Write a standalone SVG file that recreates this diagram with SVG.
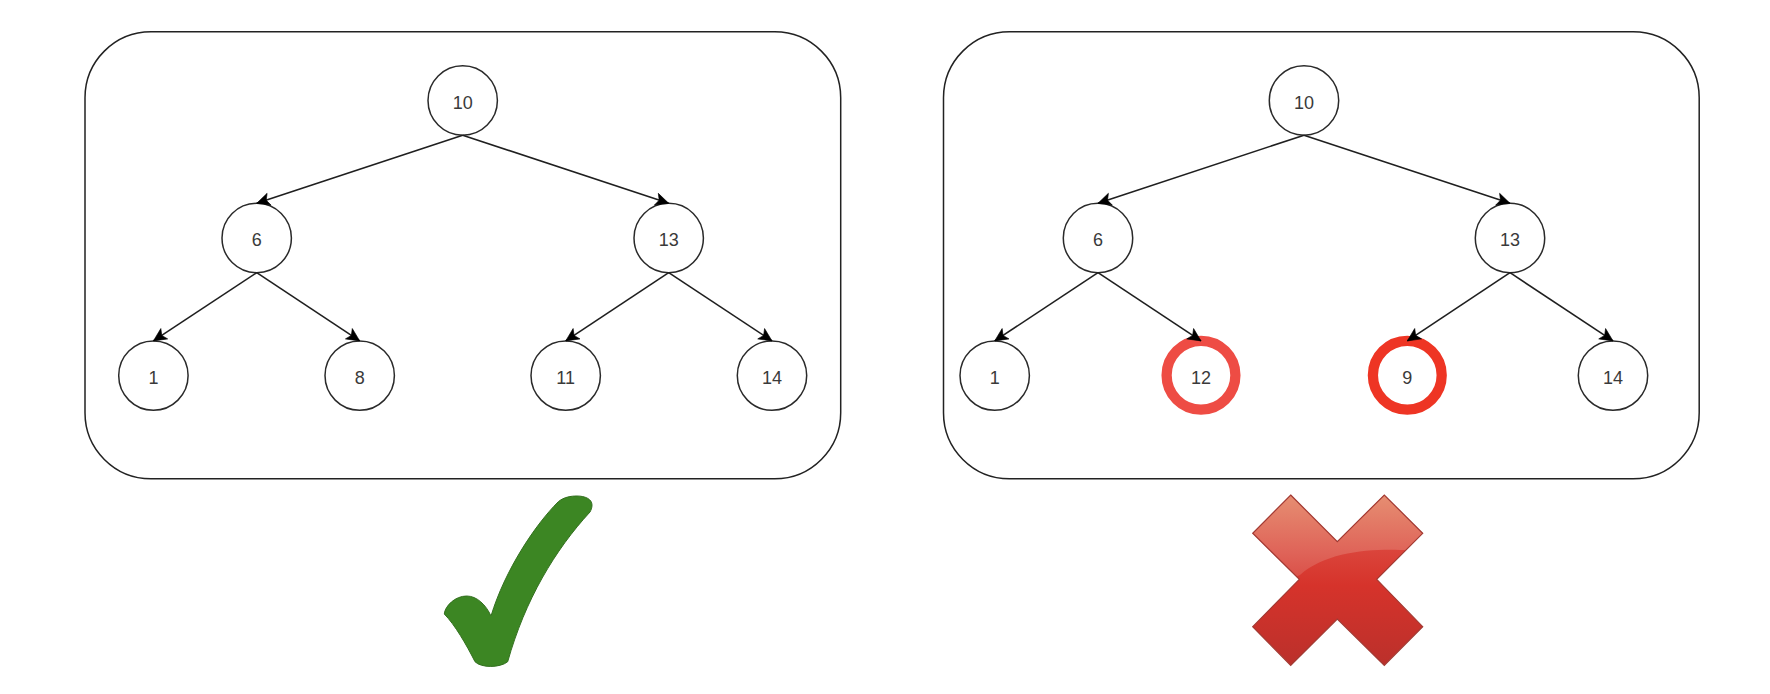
<svg xmlns="http://www.w3.org/2000/svg" width="1770" height="694" viewBox="0 0 1770 694">
  <style>
    .panel { fill: #ffffff; stroke: #222222; stroke-width: 1.5; }
    .n { fill: #ffffff; stroke: #2a2a2a; stroke-width: 1.5; }
    .bad1 { fill: #ffffff; stroke: #ee4c44; stroke-width: 10.3; }
    .bad2 { fill: #ffffff; stroke: #ee3524; stroke-width: 10.3; }
    .t { font-family: "Liberation Sans", Arial, sans-serif; font-size: 18px; fill: #3a3a3a; text-anchor: middle; }
    .c { stroke: #1f1f1f; stroke-width: 1.6; fill: none; marker-end: url(#arrow); }
  </style>
  <defs>
    <marker id="arrow" markerUnits="userSpaceOnUse" viewBox="0 0 16 16" markerWidth="16" markerHeight="16" refX="14" refY="8" orient="auto">
      <path d="M1 1.8 L14 8 L1 14.2 L4 8 Z" fill="#000000" stroke="#000000" stroke-width="0.6" stroke-linejoin="miter"/>
    </marker>
    <linearGradient id="xBase" gradientUnits="userSpaceOnUse" x1="0" y1="540" x2="0" y2="665">
      <stop offset="0" stop-color="#dc4a40"/>
      <stop offset="0.36" stop-color="#d6332b"/>
      <stop offset="1" stop-color="#bb302b"/>
    </linearGradient>
    <linearGradient id="xGloss" gradientUnits="userSpaceOnUse" x1="0" y1="495" x2="0" y2="578">
      <stop offset="0" stop-color="#e68e72"/>
      <stop offset="0.7" stop-color="#df6358"/>
      <stop offset="1" stop-color="#da5048"/>
    </linearGradient>
    <clipPath id="xClip">
      <polygon points="1290.7,495 1337.3,541.7 1384.3,495 1422.7,533.3 1376.7,579.3 1422.7,626.7 1384.3,665.3 1337.3,619 1290.7,665.3 1252.7,626.7 1299.3,579.3 1252.7,533.3"/>
    </clipPath>
  </defs>
  <rect x="0" y="0" width="1770" height="694" fill="#ffffff"/>

  <g id="panel-left"><rect class="panel" x="85" y="31.8" width="755.7" height="447" rx="66" ry="66"/></g>
  <g id="panel-right"><rect class="panel" x="943.5" y="31.8" width="755.7" height="447" rx="66" ry="66"/></g>

  <g id="l-10"><circle class="n" cx="462.7" cy="100.5" r="34.7"/><text class="t" x="462.7" y="108.5">10</text></g>
  <g id="l-6"><circle class="n" cx="256.7" cy="238" r="34.7"/><text class="t" x="256.7" y="246">6</text></g>
  <g id="l-13"><circle class="n" cx="668.7" cy="238" r="34.7"/><text class="t" x="668.7" y="246">13</text></g>
  <g id="l-1"><circle class="n" cx="153.4" cy="375.6" r="34.7"/><text class="t" x="153.4" y="383.5">1</text></g>
  <g id="l-8"><circle class="n" cx="359.7" cy="375.6" r="34.7"/><text class="t" x="359.7" y="383.5">8</text></g>
  <g id="l-11"><circle class="n" cx="565.7" cy="375.6" r="34.7"/><text class="t" x="565.7" y="383.5">11</text></g>
  <g id="l-14"><circle class="n" cx="772" cy="375.6" r="34.7"/><text class="t" x="772" y="383.5">14</text></g>

  <g id="r-10"><circle class="n" cx="1304" cy="100.5" r="34.7"/><text class="t" x="1304" y="108.5">10</text></g>
  <g id="r-6"><circle class="n" cx="1098" cy="238" r="34.7"/><text class="t" x="1098" y="246">6</text></g>
  <g id="r-13"><circle class="n" cx="1510" cy="238" r="34.7"/><text class="t" x="1510" y="246">13</text></g>
  <g id="r-1"><circle class="n" cx="994.7" cy="375.6" r="34.7"/><text class="t" x="994.7" y="383.5">1</text></g>
  <g id="r-12"><circle class="bad1" cx="1201" cy="375.3" r="34.4"/><text class="t" x="1201" y="383.5">12</text></g>
  <g id="r-9"><circle class="bad2" cx="1407.3" cy="375.3" r="34.4"/><text class="t" x="1407.3" y="383.5">9</text></g>
  <g id="r-14"><circle class="n" cx="1613" cy="375.6" r="34.7"/><text class="t" x="1613" y="383.5">14</text></g>

  <g id="connectors">
    <line class="c" x1="462.7" y1="135.2" x2="256.7" y2="203.3"/>
    <line class="c" x1="462.7" y1="135.2" x2="668.7" y2="203.3"/>
    <line class="c" x1="256.7" y1="272.7" x2="153.4" y2="340.9"/>
    <line class="c" x1="256.7" y1="272.7" x2="359.7" y2="340.9"/>
    <line class="c" x1="668.7" y1="272.7" x2="565.7" y2="340.9"/>
    <line class="c" x1="668.7" y1="272.7" x2="772" y2="340.9"/>
    <line class="c" x1="1304" y1="135.2" x2="1098" y2="203.3"/>
    <line class="c" x1="1304" y1="135.2" x2="1510" y2="203.3"/>
    <line class="c" x1="1098" y1="272.7" x2="994.7" y2="340.9"/>
    <line class="c" x1="1098" y1="272.7" x2="1201" y2="340.9"/>
    <line class="c" x1="1510" y1="272.7" x2="1407.3" y2="340.9"/>
    <line class="c" x1="1510" y1="272.7" x2="1613" y2="340.9"/>
  </g>

  <g id="check">
    <path d="M558.3 501.7 C564 497 571 496 577 496 C585 496 592 499 592 505 C592 508 591 510 590 512 C555 550 525 600 507.7 661.7 C500 668 481 668 475 661.7 C466 644 455 625 444.3 614 C445 606 455 596 466.7 596 C477 596 486 605 491 616 C505 570 535 525 558.3 501.7 Z" fill="#3c8623" stroke="#33701f" stroke-width="1"/>
  </g>

  <g id="cross">
    <polygon points="1290.7,495 1337.3,541.7 1384.3,495 1422.7,533.3 1376.7,579.3 1422.7,626.7 1384.3,665.3 1337.3,619 1290.7,665.3 1252.7,626.7 1299.3,579.3 1252.7,533.3" fill="url(#xBase)"/>
    <path d="M1240 480 H1440 V550 H1400 C1365 549 1325 553 1300 575 L1240 600 Z" fill="url(#xGloss)" clip-path="url(#xClip)"/>
    <polygon points="1290.7,495 1337.3,541.7 1384.3,495 1422.7,533.3 1376.7,579.3 1422.7,626.7 1384.3,665.3 1337.3,619 1290.7,665.3 1252.7,626.7 1299.3,579.3 1252.7,533.3" fill="none" stroke="#a23a33" stroke-width="1.2"/>
  </g>
</svg>
